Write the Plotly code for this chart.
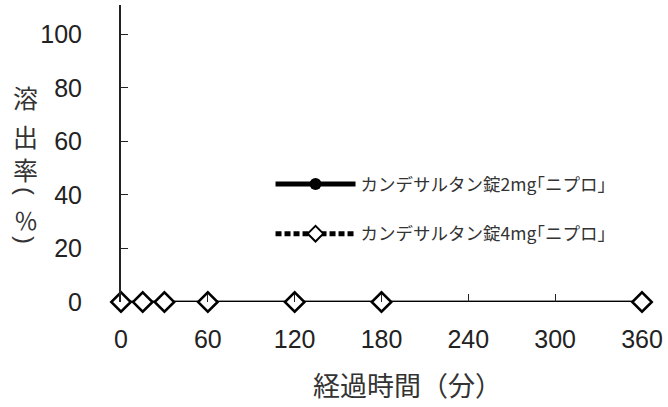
import plotly.graph_objects as go

time_min = [0, 15, 30, 60, 120, 180, 360]
rate_2mg = [0, 0, 0, 0, 0, 0, 0]
rate_4mg = [0, 0, 0, 0, 0, 0, 0]
x_ticks = [0, 60, 120, 180, 240, 300, 360]
y_ticks = [0, 20, 40, 60, 80, 100]
name_2mg = "カンデサルタン錠2mg｢ニプロ｣"
name_4mg = "カンデサルタン錠4mg｢ニプロ｣"
y_title_chars = ["溶", "出", "率", "(", "％", ")"]

fig = go.Figure()
fig.add_trace(go.Scatter(
    x=time_min, y=rate_2mg, name=name_2mg, mode="lines+markers",
    legendgroup="a",
    line=dict(color="black", width=2.5),
    marker=dict(symbol="circle", size=10, color="black"),
    cliponaxis=False,
))
fig.add_trace(go.Scatter(
    x=time_min, y=rate_4mg, name=name_4mg, mode="lines+markers",
    legendgroup="b",
    line=dict(color="black", width=2, dash="6px,3px"),
    marker=dict(symbol="diamond", size=15, color="white",
                line=dict(color="black", width=2.5)),
    cliponaxis=False,
))

font_main = "Arial, Liberation Sans, Noto Sans CJK JP"
fig.update_layout(
    width=668, height=407,
    margin=dict(l=121, r=21, t=5, b=105),
    paper_bgcolor="white", plot_bgcolor="white",
    font=dict(family=font_main, color="#222", size=26),
    showlegend=True,
    legend=dict(x=0.287, y=0.313, xanchor="left", yanchor="middle",
                bgcolor="rgba(0,0,0,0)", tracegroupgap=24, itemsizing="constant",
                itemwidth=80,
                font=dict(size=17.5, family="Noto Sans CJK JP", color="#333")),
    xaxis=dict(range=[0, 360], tickvals=x_ticks, ticks="inside", ticklen=8,
               tickcolor="#222", showgrid=False, zeroline=False,
               showline=False, tickfont=dict(size=25), ticklabelstandoff=20),
    yaxis=dict(range=[0, 111], tickvals=y_ticks, ticks="inside", ticklen=7,
               tickcolor="#222", showgrid=False, zeroline=False,
               showline=True, linecolor="#222", linewidth=2,
               tickfont=dict(size=25), ticklabelstandoff=32),
)
fig.add_hline(y=0, line=dict(color="#222", width=2.5), layer="below")

# vertical y-axis title, one character per line (pixel rows from the reference)
title_rows_px = [97, 136, 169, 191, 220, 240]
title_sizes = [25, 25, 25, 24, 24, 24]
title_angles = [0, 0, 0, 90, 0, 90]
for ch, py, fs, ang in zip(y_title_chars, title_rows_px, title_sizes, title_angles):
    fam = "Liberation Sans" if ang else "Noto Sans CJK JP"
    fig.add_annotation(text=ch, xref="paper", yref="paper", textangle=ang,
                       x=-0.1825, y=(302 - py) / 297, xanchor="center", yanchor="middle",
                       showarrow=False, borderpad=0,
                       font=dict(size=fs, family=fam, color="#333"))
fig.add_annotation(text="経過時間（分）", xref="paper", yref="paper",
                   x=0.55, y=-0.279, xanchor="center", yanchor="middle",
                   showarrow=False, font=dict(size=27, family="Noto Sans CJK JP", color="#333"))

fig.write_html("out.html", config={"displayModeBar": False},
               post_script="document.body.style.margin='0';")
